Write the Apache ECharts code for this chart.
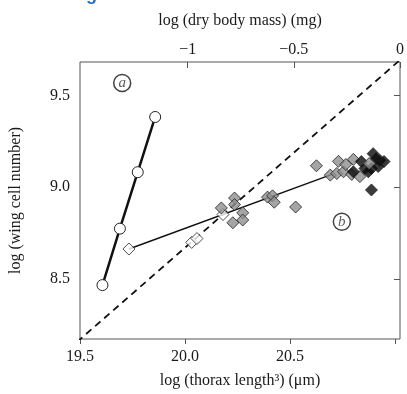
<!DOCTYPE html>
<html>
<head>
<meta charset="utf-8">
<script src="https://cdn.jsdelivr.net/npm/echarts@6/dist/echarts.min.js"></script>
<style>
  html, body { margin: 0; padding: 0; background: #fff; }
  #chart { width: 407px; height: 394px; }
</style>
</head>
<body>
<div id="chart"></div>
<script>
// (a) open circles joined by a thick line
const circleX = [19.607, 19.690, 19.775, 19.858];
const circleY = [8.466, 8.774, 9.082, 9.383];

// (b) diamonds: white, grey and black groups
const whiteX = [19.733, 20.032, 20.057, 20.181];
const whiteY = [8.663, 8.699, 8.720, 8.851];

const greyX = [20.173, 20.236, 20.236, 20.275, 20.228, 20.275, 20.393, 20.417, 20.425, 20.527,
               20.626, 20.692, 20.723, 20.755, 20.794, 20.833, 20.731, 20.766, 20.802];
const greyY = [8.887, 8.941, 8.905, 8.860, 8.806, 8.821, 8.946, 8.953, 8.918, 8.892,
               9.117, 9.066, 9.075, 9.084, 9.070, 9.058, 9.141, 9.124, 9.152];

const blackX = [20.896, 20.928, 20.948, 20.888, 20.857, 20.873, 20.802, 20.888, 20.910, 20.840, 20.920];
const blackY = [9.183, 9.147, 9.140, 9.102, 9.102, 9.084, 9.084, 8.985, 9.156, 9.140, 9.113];

// last grey point drawn above the black cluster
const greyTopX = [20.877];
const greyTopY = [9.129];

// fitted line through (b) and the 1:1 dashed line
const fitX = [19.733, 20.700];
const fitY = [8.663, 9.070];
const refX = [19.40, 21.10];
const refY = [8.07, 9.77];

// panel letters
const panelNames = ['a', 'b'];
const panelX = [19.701, 20.747];
const panelY = [9.568, 8.812];

// tick labels
const bottomTicks = [19.5, 20.0, 20.5, 21.0];
const bottomLabels = [19.5, 20.0, 20.5];
const topTicks = [-1, -0.5, 0];
const leftTicks = [8.5, 9.0, 9.5];

const zip = (xs, ys) => xs.map((x, i) => [x, ys[i]]);

const serif = '"Liberation Serif", "DejaVu Serif", serif';
const textColor = '#1a1a1a';

const chart = echarts.init(document.getElementById('chart'));

const diamond = (xs, ys, fill, name) => ({
  name: name,
  type: 'scatter',
  symbol: 'diamond',
  symbolSize: 12,
  data: zip(xs, ys),
  itemStyle: { color: fill, borderColor: '#222', borderWidth: 1 },
  z: 3
});

const option = {
  animation: false,
  grid: {
    left: 79, right: 5, top: 62, bottom: 51,
    show: true, borderColor: '#555', borderWidth: 1
  },
  graphic: [{
    type: 'text', left: 86, top: -14,
    style: { text: 'g', font: 'bold 18px "Liberation Sans", sans-serif', fill: '#1a74c9' }
  }],
  xAxis: [{
    type: 'value',
    min: 19.5, max: 21.024,
    position: 'bottom',
    name: 'log (thorax length³) (μm)',
    nameLocation: 'middle',
    nameGap: 34,
    nameTextStyle: { fontFamily: serif, fontSize: 16, color: textColor },
    splitLine: { show: false },
    axisLine: { show: false },
    axisTick: { show: true, customValues: bottomTicks, length: 5, lineStyle: { color: '#555' } },
    axisLabel: {
      customValues: bottomLabels, margin: 10,
      fontFamily: serif, fontSize: 16, color: textColor,
      formatter: v => v.toFixed(1)
    }
  }, {
    type: 'value',
    min: -1.507, max: 0,
    position: 'top',
    name: 'log (dry body mass) (mg)',
    nameLocation: 'middle',
    nameGap: 33,
    nameTextStyle: { fontFamily: serif, fontSize: 16, color: textColor },
    splitLine: { show: false },
    axisLine: { show: false },
    axisTick: { show: true, inside: true, customValues: topTicks, length: 6, lineStyle: { color: '#555' } },
    axisLabel: {
      customValues: topTicks, margin: 4,
      fontFamily: serif, fontSize: 16, color: textColor,
      formatter: v => (v < 0 ? '\u2212' + String(-v) : String(v))
    }
  }],
  yAxis: {
    type: 'value',
    min: 8.172, max: 9.683,
    name: 'log (wing cell number)',
    nameLocation: 'middle',
    nameGap: 56,
    nameTextStyle: { fontFamily: serif, fontSize: 16, color: textColor },
    splitLine: { show: false },
    axisLine: { show: false },
    axisTick: { show: true, customValues: leftTicks, length: 6, lineStyle: { color: '#555' } },
    axisLabel: {
      customValues: leftTicks, margin: 10,
      fontFamily: serif, fontSize: 16, color: textColor,
      formatter: v => v.toFixed(1)
    }
  },
  series: [
    {
      name: 'one-to-one',
      type: 'line',
      data: zip(refX, refY),
      symbol: 'none',
      clip: true,
      lineStyle: { color: '#111', width: 1.8, type: [7, 5] },
      z: 1
    },
    {
      name: 'a',
      type: 'line',
      data: zip(circleX, circleY),
      symbol: 'circle',
      symbolSize: 11,
      showAllSymbol: true,
      lineStyle: { color: '#111', width: 2.5 },
      itemStyle: { color: '#fff', borderColor: '#222', borderWidth: 1 },
      z: 4
    },
    diamond(whiteX, whiteY, '#fff', 'white'),
    diamond(greyX, greyY, '#8f8f8f', 'grey'),
    diamond(blackX, blackY, '#0a0a0a', 'black'),
    diamond(greyTopX, greyTopY, '#8f8f8f', 'grey top'),
    {
      name: 'b fit',
      type: 'line',
      data: zip(fitX, fitY),
      symbol: 'none',
      lineStyle: { color: '#111', width: 1.5 },
      z: 3
    },
    {
      name: 'panels',
      type: 'scatter',
      symbol: 'circle',
      symbolSize: 17,
      data: panelNames.map((n, i) => ({ name: n, value: [panelX[i], panelY[i]] })),
      itemStyle: { color: '#fff', borderColor: '#111', borderWidth: 1.5 },
      label: {
        show: true, position: 'inside', formatter: p => p.name,
        fontFamily: serif, fontStyle: 'italic', fontSize: 15, color: '#333'
      },
      z: 5
    }
  ]
};

chart.setOption(option);
</script>
</body>
</html>
